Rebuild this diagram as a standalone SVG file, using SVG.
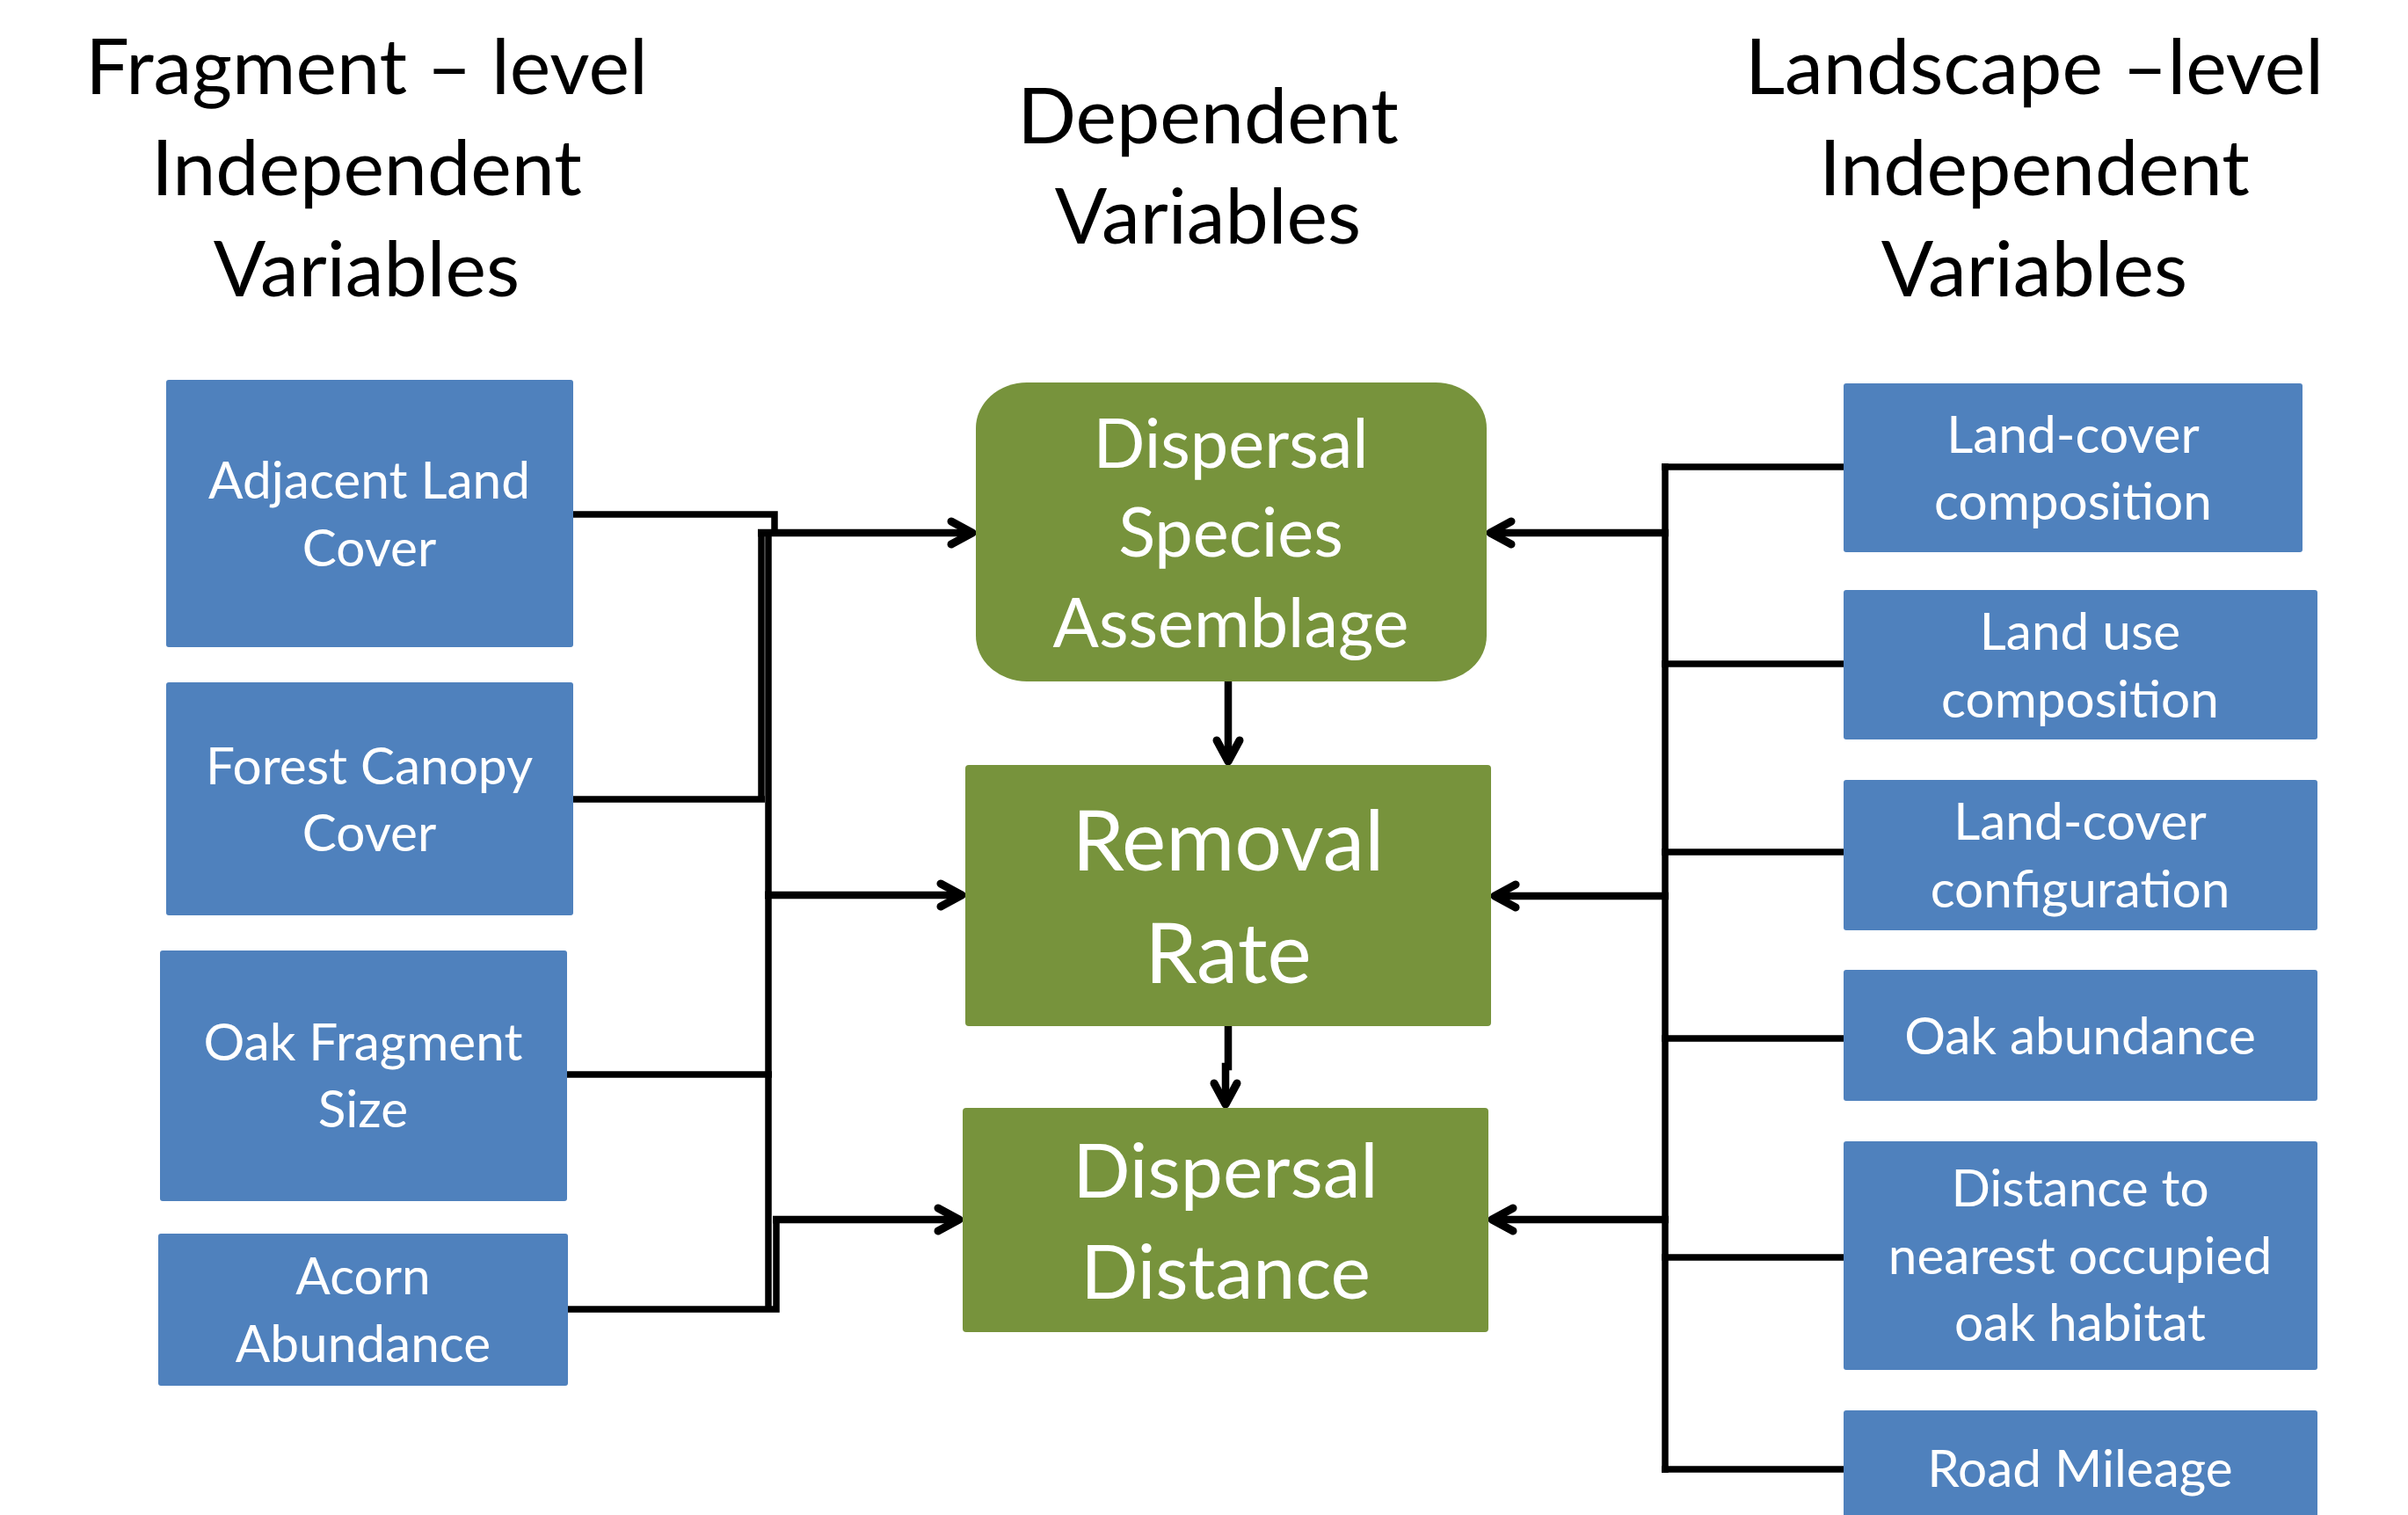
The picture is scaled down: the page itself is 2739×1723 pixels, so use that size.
<svg xmlns="http://www.w3.org/2000/svg" width="2739" height="1723" viewBox="0 0 2739 1723">
  <defs>
    <style>
      .head { font-family: Lato, "Open Sans", sans-serif; font-size: 88px; fill: #000; text-anchor: middle; }
      .ind  { fill: #4F81BD; }
      .dep  { fill: #77933C; }
      .lbl  { font-family: Lato, "Open Sans", sans-serif; font-size: 58.5px; fill: #fff; text-anchor: middle; }
      .lblM { font-family: Lato, "Open Sans", sans-serif; fill: #fff; text-anchor: middle; }
      .wire { fill: none; stroke: #000; stroke-width: 7.5; stroke-linecap: butt; stroke-linejoin: miter; }
      .arw  { fill: none; stroke: #000; stroke-width: 8.5; marker-end: url(#ah); }
    </style>
    <!-- open V arrowhead, tip at the path end -->
    <marker id="ah" markerUnits="userSpaceOnUse" markerWidth="60" markerHeight="60" viewBox="-40 -30 60 60" refX="0" refY="0" orient="auto" overflow="visible">
      <path d="M-24,-13 L0,0 L-24,13" fill="none" stroke="#000" stroke-width="9" stroke-linecap="round" stroke-linejoin="round"/>
    </marker>
  </defs>

  <rect width="2739" height="1723" fill="#fff"/>

  <!-- column headings -->
  <g id="heading-fragment">
    <text class="head" x="417" y="107">Fragment – level</text>
    <text class="head" x="417" y="222">Independent</text>
    <text class="head" x="417" y="337">Variables</text>
  </g>
  <g id="heading-dependent">
    <text class="head" x="1374" y="163">Dependent</text>
    <text class="head" x="1374" y="277">Variables</text>
  </g>
  <g id="heading-landscape">
    <text class="head" x="2314" y="107">Landscape –level</text>
    <text class="head" x="2314" y="222">Independent</text>
    <text class="head" x="2314" y="337">Variables</text>
  </g>

  <!-- connectors -->
  <g id="connectors">
    <!-- fragment-level side -->
    <path class="wire" d="M652,585 H881 V606"/>
    <path class="wire" d="M866,602 V911"/>
    <path class="wire" d="M874,602 V1489"/>
    <path class="wire" d="M652,909 H870"/>
    <path class="wire" d="M645,1222 H878"/>
    <path class="wire" d="M646,1489 H883 V1384"/>
    <path class="arw" d="M862,606 H1106"/>
    <path class="arw" d="M870,1018 H1094"/>
    <path class="arw" d="M879,1387 H1091"/>
    <!-- dependent chain -->
    <path class="arw" d="M1397,775 V866"/>
    <path class="arw" d="M1397,1167 V1213 H1394 V1256"/>
    <!-- landscape-level side -->
    <path class="wire" d="M1894,527 V1675"/>
    <path class="wire" d="M1890,531 H2097"/>
    <path class="wire" d="M1890,755 H2097"/>
    <path class="wire" d="M1890,969 H2097"/>
    <path class="wire" d="M1890,1181 H2097"/>
    <path class="wire" d="M1890,1430 H2097"/>
    <path class="wire" d="M1890,1671 H2097"/>
    <path class="arw" d="M1898,606 H1695"/>
    <path class="arw" d="M1898,1019 H1700"/>
    <path class="arw" d="M1898,1387 H1697"/>
  </g>

  <!-- fragment-level independent variables -->
  <g id="adjacent-land-cover">
    <rect class="ind" x="189" y="432" width="463" height="304" rx="3"/>
    <text class="lbl" x="420" y="567">Adjacent Land</text>
    <text class="lbl" x="420" y="644">Cover</text>
  </g>
  <g id="forest-canopy-cover">
    <rect class="ind" x="189" y="776" width="463" height="265" rx="3"/>
    <text class="lbl" x="420" y="892">Forest Canopy</text>
    <text class="lbl" x="420" y="968">Cover</text>
  </g>
  <g id="oak-fragment-size">
    <rect class="ind" x="182" y="1081" width="463" height="285" rx="3"/>
    <text class="lbl" x="413" y="1206">Oak Fragment</text>
    <text class="lbl" x="413" y="1282">Size</text>
  </g>
  <g id="acorn-abundance">
    <rect class="ind" x="180" y="1403" width="466" height="173" rx="3"/>
    <text class="lbl" x="413" y="1472">Acorn</text>
    <text class="lbl" x="413" y="1549">Abundance</text>
  </g>

  <!-- dependent variables -->
  <g id="dispersal-species-assemblage">
    <rect class="dep" x="1110" y="435" width="581" height="340" rx="58" ry="52"/>
    <text class="lblM" x="1400" y="532" font-size="77.5">Dispersal</text>
    <text class="lblM" x="1400" y="633" font-size="77.5">Species</text>
    <text class="lblM" x="1400" y="736" font-size="77.5">Assemblage</text>
  </g>
  <g id="removal-rate">
    <rect class="dep" x="1098" y="870" width="598" height="297" rx="4"/>
    <text class="lblM" x="1397" y="990" font-size="95">Removal</text>
    <text class="lblM" x="1397" y="1118" font-size="95">Rate</text>
  </g>
  <g id="dispersal-distance">
    <rect class="dep" x="1095" y="1260" width="598" height="255" rx="4"/>
    <text class="lblM" x="1394" y="1362" font-size="86">Dispersal</text>
    <text class="lblM" x="1394" y="1477" font-size="86">Distance</text>
  </g>

  <!-- landscape-level independent variables -->
  <g id="land-cover-composition">
    <rect class="ind" x="2097" y="436" width="522" height="192" rx="3"/>
    <text class="lbl" x="2358" y="515">Land-cover</text>
    <text class="lbl" x="2358" y="591">composition</text>
  </g>
  <g id="land-use-composition">
    <rect class="ind" x="2097" y="671" width="539" height="170" rx="3"/>
    <text class="lbl" x="2366" y="739">Land use</text>
    <text class="lbl" x="2366" y="816">composition</text>
  </g>
  <g id="land-cover-configuration">
    <rect class="ind" x="2097" y="887" width="539" height="171" rx="3"/>
    <text class="lbl" x="2366" y="955">Land-cover</text>
    <text class="lbl" x="2366" y="1032">configuration</text>
  </g>
  <g id="oak-abundance">
    <rect class="ind" x="2097" y="1103" width="539" height="149" rx="3"/>
    <text class="lbl" x="2366" y="1199">Oak abundance</text>
  </g>
  <g id="distance-to-oak-habitat">
    <rect class="ind" x="2097" y="1298" width="539" height="260" rx="3"/>
    <text class="lbl" x="2366" y="1372">Distance to</text>
    <text class="lbl" x="2366" y="1449">nearest occupied</text>
    <text class="lbl" x="2366" y="1525">oak habitat</text>
  </g>
  <g id="road-mileage">
    <rect class="ind" x="2097" y="1604" width="539" height="140" rx="3"/>
    <text class="lbl" x="2366" y="1691">Road Mileage</text>
  </g>
</svg>
